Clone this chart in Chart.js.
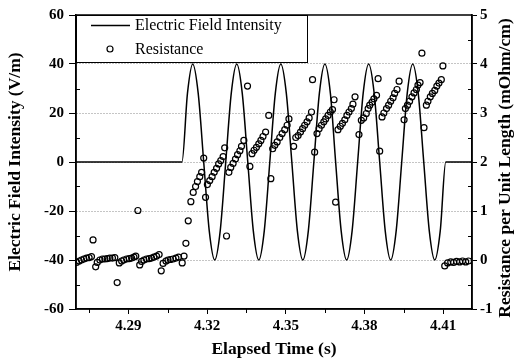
<!DOCTYPE html>
<html>
<head>
<meta charset="utf-8">
<script src="https://cdn.jsdelivr.net/npm/chart.js@4"></script>
<style>
  html, body { margin: 0; padding: 0; background: #fff; }
  canvas { display: block; }
</style>
</head>
<body>
<canvas id="chart" width="517" height="363"></canvas>
<script>
// electric field trace (time in s, field in V/m)
const fieldTime = [
  4.2700, 4.3104, 4.3125, 4.3145, 4.3166, 4.3187, 4.3208, 4.3229, 4.3250,
  4.3271, 4.3292, 4.3313, 4.3334, 4.3355, 4.3376, 4.3397, 4.3418,
  4.3439, 4.3460, 4.3481, 4.3502, 4.3523, 4.3544, 4.3565, 4.3586,
  4.3607, 4.3628, 4.3649, 4.3670, 4.3690, 4.3711, 4.3732, 4.3753,
  4.3774, 4.3795, 4.3816, 4.3837, 4.3858, 4.3879, 4.3900, 4.3921,
  4.3942, 4.3963, 4.3984, 4.4005, 4.4026, 4.4047, 4.4068, 4.4089,
  4.4110, 4.4209
];
const fieldValue = [
  0, 0, 28, 40, 28, 0, -28, -40, -28,
  0, 28, 40, 28, 0, -28, -40, -28,
  0, 28, 40, 28, 0, -28, -40, -28,
  0, 28, 40, 28, 0, -28, -40, -28,
  0, 28, 40, 28, 0, -28, -40, -28,
  0, 28, 40, 28, 0, -28, -40, -28,
  0, 0
];

// resistance samples (time in s, mOhm/cm)
const resTime = [
  4.2702, 4.2712, 4.2721, 4.2730, 4.2740, 4.2750, 4.2759,
  4.2765, 4.2775,
  4.2781, 4.2791, 4.2801, 4.2810, 4.2819, 4.2829, 4.2839, 4.2848,
  4.2857,
  4.2865, 4.2874, 4.2882, 4.2893, 4.2903, 4.2912, 4.2921, 4.2928,
  4.2936, 4.2943,
  4.2950, 4.2959, 4.2969, 4.2979, 4.2988, 4.2997, 4.3007, 4.3017,
  4.3025,
  4.3032, 4.3043, 4.3051, 4.3060, 4.3070, 4.3081, 4.3091,
  4.3105, 4.3112, 4.3119, 4.3128, 4.3138, 4.3147, 4.3156, 4.3163, 4.3172, 4.3179,
  4.3187, 4.3194,
  4.3201, 4.3210, 4.3219, 4.3227, 4.3236, 4.3244, 4.3252, 4.3261, 4.3267,
  4.3274,
  4.3283, 4.3290, 4.3299, 4.3308, 4.3316, 4.3325, 4.3331, 4.3340,
  4.3354,
  4.3363, 4.3371, 4.3379, 4.3388, 4.3397, 4.3405, 4.3413, 4.3423,
  4.3435, 4.3443,
  4.3450, 4.3458, 4.3467, 4.3477, 4.3486, 4.3496, 4.3505, 4.3512,
  4.3530,
  4.3538, 4.3547, 4.3556, 4.3564, 4.3572, 4.3581, 4.3589, 4.3598,
  4.3602, 4.3610,
  4.3619, 4.3627, 4.3636, 4.3645, 4.3652, 4.3661, 4.3670, 4.3678, 4.3684,
  4.3690,
  4.3699, 4.3708, 4.3716, 4.3725, 4.3733, 4.3741, 4.3750, 4.3756, 4.3764,
  4.3779,
  4.3788, 4.3797, 4.3807, 4.3814, 4.3820, 4.3829, 4.3836, 4.3846,
  4.3852, 4.3858,
  4.3867, 4.3874, 4.3884, 4.3892, 4.3900, 4.3909, 4.3915, 4.3924, 4.3932,
  4.3951,
  4.3956, 4.3964, 4.3972, 4.3981, 4.3989, 4.3998, 4.4004, 4.4012,
  4.4019, 4.4027,
  4.4036, 4.4042, 4.4051, 4.4059, 4.4068, 4.4076, 4.4084, 4.4093,
  4.4099,
  4.4106, 4.4117, 4.4129, 4.4140, 4.4151, 4.4163, 4.4174, 4.4186, 4.4197
];
const resValue = [
  -0.05, -0.02, 0.00, 0.02, 0.04, 0.05, 0.07,
  0.41, -0.14,
  -0.05, 0.00, 0.02, 0.02, 0.03, 0.04, 0.04, 0.05,
  -0.46,
  -0.06, -0.02, 0.00, 0.02, 0.03, 0.04, 0.06, 0.08,
  1.01, -0.10,
  -0.03, 0.00, 0.02, 0.03, 0.04, 0.06, 0.08, 0.11,
  -0.22,
  -0.07, -0.02, 0.00, 0.01, 0.02, 0.04, 0.06,
  -0.06, 0.08, 0.34, 0.80, 1.19, 1.38, 1.50, 1.60, 1.70, 1.79,
  2.08, 1.28,
  1.54, 1.62, 1.70, 1.79, 1.87, 1.96, 2.03, 2.11, 2.29,
  0.49,
  1.79, 1.89, 1.97, 2.06, 2.15, 2.23, 2.32, 2.44,
  3.55,
  1.91, 2.17, 2.24, 2.30, 2.37, 2.44, 2.52, 2.61,
  2.95, 1.66,
  2.27, 2.34, 2.41, 2.50, 2.58, 2.66, 2.75, 2.88,
  2.32,
  2.50, 2.54, 2.61, 2.68, 2.75, 2.82, 2.90, 3.02,
  3.68, 2.20,
  2.58, 2.68, 2.75, 2.82, 2.88, 2.95, 3.02, 3.07, 3.27,
  1.18,
  2.66, 2.73, 2.79, 2.86, 2.95, 3.02, 3.09, 3.18, 3.33,
  2.56,
  2.85, 2.90, 2.99, 3.09, 3.16, 3.22, 3.29, 3.36,
  3.70, 2.22,
  2.92, 3.00, 3.09, 3.16, 3.24, 3.31, 3.40, 3.48, 3.65,
  2.86,
  3.09, 3.16, 3.24, 3.33, 3.41, 3.48, 3.57, 3.62,
  4.22, 2.70,
  3.16, 3.24, 3.33, 3.40, 3.46, 3.55, 3.61, 3.68,
  3.96,
  -0.12, -0.06, -0.04, -0.05, -0.03, -0.04, -0.02, -0.04, -0.02
];

// axis ticks
const timeTicks = [4.29, 4.32, 4.35, 4.38, 4.41];
const timeMinorTicks = [4.275, 4.305, 4.335, 4.365, 4.395];
const fieldTicks = [-60, -40, -20, 0, 20, 40, 60];
const fieldMinorTicks = [-50, -30, -10, 10, 30, 50];
const resTicks = [-1, 0, 1, 2, 3, 4, 5];
const resMinorTicks = [-0.5, 0.5, 1.5, 2.5, 3.5, 4.5];
const resTitle = 'Resistance per Unit Length (mOhm/cm)';

const serif = "'Liberation Serif', 'Times New Roman', serif";
const tickFont = { family: serif, size: 15, weight: 'bold' };
const titleFont = { family: serif, size: 17.5, weight: 'bold' };

// minor ticks, plot frame, right title and the boxed legend
const extras = {
  id: 'extras',
  afterDatasetsDraw(chart) {
    const { ctx, chartArea: a, scales } = chart;
    ctx.save();
    ctx.strokeStyle = '#000';
    ctx.lineWidth = 1;
    ctx.beginPath();
    fieldMinorTicks.forEach(v => {
      const y = Math.round(scales.y.getPixelForValue(v)) + 0.5;
      ctx.moveTo(a.left, y); ctx.lineTo(a.left + 4, y);
    });
    resMinorTicks.forEach(v => {
      const y = Math.round(scales.y2.getPixelForValue(v)) + 0.5;
      ctx.moveTo(a.right, y); ctx.lineTo(a.right - 4, y);
    });
    timeMinorTicks.forEach(v => {
      const x = Math.round(scales.x.getPixelForValue(v)) + 0.5;
      ctx.moveTo(x, a.bottom); ctx.lineTo(x, a.bottom + 4);
    });
    ctx.stroke();

    ctx.lineWidth = 1.5;
    ctx.strokeRect(a.left, a.top, a.right - a.left, a.bottom - a.top);

    // right axis title reads bottom to top, like the left one
    ctx.save();
    ctx.translate(chart.width - 12, (a.top + a.bottom) / 2 + 6);
    ctx.rotate(-Math.PI / 2);
    ctx.fillStyle = '#000';
    ctx.font = 'bold 17.5px ' + serif;
    ctx.textAlign = 'center';
    ctx.textBaseline = 'middle';
    ctx.fillText(resTitle, 0, 0);
    ctx.restore();

    // legend
    const bx = a.left, by = a.top, bw = 231, bh = 47;
    ctx.fillStyle = '#fff';
    ctx.fillRect(bx, by, bw, bh);
    ctx.lineWidth = 1;
    ctx.strokeRect(bx + 0.5, by + 0.5, bw, bh);
    const ds = chart.data.datasets;
    ctx.lineWidth = 1.5;
    ctx.beginPath();
    ctx.moveTo(bx + 15, by + 10.5); ctx.lineTo(bx + 54, by + 10.5);
    ctx.stroke();
    ctx.lineWidth = 1.2;
    ctx.beginPath();
    ctx.arc(bx + 34, by + 34, 3, 0, Math.PI * 2);
    ctx.stroke();
    ctx.fillStyle = '#000';
    ctx.font = '16px ' + serif;
    ctx.textBaseline = 'middle';
    ctx.textAlign = 'left';
    ctx.fillText(ds[0].label, bx + 59, by + 11);
    ctx.fillText(ds[1].label, bx + 59, by + 35);
    ctx.restore();
  }
};

new Chart(document.getElementById('chart'), {
  type: 'line',
  data: {
    datasets: [
      {
        label: 'Electric Field Intensity',
        data: fieldTime.map((t, i) => ({ x: t, y: fieldValue[i] })),
        yAxisID: 'y',
        borderColor: '#000',
        borderWidth: 1.5,
        pointRadius: 0,
        cubicInterpolationMode: 'monotone',
        fill: false
      },
      {
        label: 'Resistance',
        data: resTime.map((t, i) => ({ x: t, y: resValue[i] })),
        yAxisID: 'y2',
        showLine: false,
        pointRadius: 3,
        pointBorderWidth: 1.2,
        pointBorderColor: '#000',
        pointBackgroundColor: 'rgba(0,0,0,0)'
      }
    ]
  },
  options: {
    responsive: false,
    animation: false,
    layout: { padding: { top: 15, left: 0, right: 0, bottom: 0 } },
    plugins: { legend: { display: false }, tooltip: { enabled: false } },
    scales: {
      x: {
        type: 'linear',
        min: 4.27,
        max: 4.421,
        afterBuildTicks: s => { s.ticks = timeTicks.map(v => ({ value: v })); },
        afterFit: s => { s.height = 54; },
        ticks: { callback: v => v.toFixed(2), font: tickFont, color: '#000', padding: 3, maxRotation: 0, autoSkip: false },
        grid: { drawOnChartArea: false, tickLength: 5, color: '#000' },
        border: { color: '#000', width: 1.5 },
        title: { display: true, text: 'Elapsed Time (s)', font: titleFont, color: '#000', padding: { top: 0, bottom: 3 } }
      },
      y: {
        position: 'left',
        min: -60,
        max: 60,
        afterBuildTicks: s => { s.ticks = fieldTicks.map(v => ({ value: v })); },
        afterFit: s => { s.width = 76; },
        ticks: { font: tickFont, color: '#000', padding: 5 },
        grid: {
          color: c => (Math.abs(c.tick.value) === 60 ? 'rgba(0,0,0,0)' : '#8a8a8a'),
          tickColor: '#000',
          tickLength: 7,
          lineWidth: 1
        },
        border: { color: '#000', width: 1.5, dash: [1, 2] },
        title: { display: true, text: 'Electric Field Intensity (V/m)', font: titleFont, color: '#000', padding: { top: 5, bottom: 0 } }
      },
      y2: {
        position: 'right',
        min: -1,
        max: 5,
        afterBuildTicks: s => { s.ticks = resTicks.map(v => ({ value: v })); },
        afterFit: s => { s.width = 45; },
        ticks: { font: tickFont, color: '#000', padding: 3 },
        grid: { drawOnChartArea: false, tickLength: 5, color: '#000' },
        border: { color: '#000', width: 1.5 }
      }
    }
  },
  plugins: [extras]
});
</script>
</body>
</html>
